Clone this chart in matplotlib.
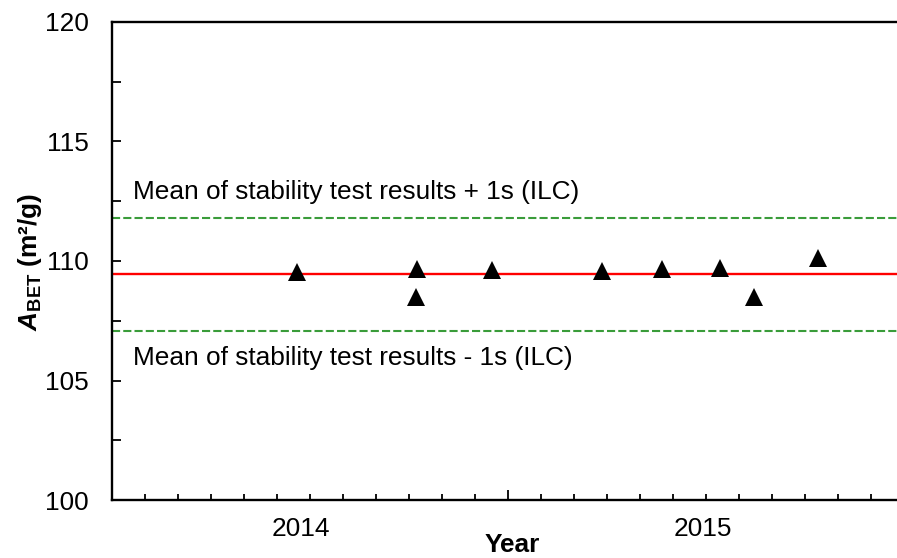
import matplotlib
matplotlib.use("Agg")
import matplotlib.pyplot as plt
import numpy as np

plt.rcParams['font.family'] = ['Liberation Sans', 'DejaVu Sans']
plt.rcParams['mathtext.fontset'] = 'custom'
plt.rcParams['mathtext.rm'] = 'Liberation Sans'
plt.rcParams['mathtext.it'] = 'Liberation Sans:italic'
plt.rcParams['mathtext.bf'] = 'Liberation Sans:bold'
plt.rcParams['mathtext.bfit'] = 'Liberation Sans:italic:bold'

# months since 1 Jan 2014
sample_months = [5.62, 9.25, 9.21, 11.52, 14.86, 16.66, 18.42, 19.46, 21.38]
abet_values = [109.52, 109.65, 108.49, 109.64, 109.60, 109.67, 109.69, 108.50, 110.11]

mean_value = 109.44
upper_value = 111.80
lower_value = 107.09

year_labels = ['2014', '2015']
year_label_pos = [5.73, 17.9]
upper_text = 'Mean of stability test results + 1s (ILC)'
lower_text = 'Mean of stability test results - 1s (ILC)'

FS = 18.9
fig = plt.figure(figsize=(8.97, 5.58), dpi=100)
ax = fig.add_axes([112 / 897, 58 / 558, 792 / 897, 478 / 558])

ax.axhline(mean_value, color='#ff0000', lw=1.7, zorder=2)
ax.axhline(upper_value, color='#3a9c3a', lw=1.5, ls=(0, (3.9, 1.5)), zorder=2)
ax.axhline(lower_value, color='#3a9c3a', lw=1.5, ls=(0, (3.9, 1.5)), zorder=2)
ax.plot(sample_months, abet_values, ls='none', marker='^', ms=13.2,
        color='black', mec='black', mew=0, zorder=3)

ax.set_xlim(0, 24)
ax.set_ylim(100, 120)

ax.text(0.64, 112.59, upper_text, fontsize=FS, va='baseline', ha='left')
ax.text(0.64, 105.66, lower_text, fontsize=FS, va='baseline', ha='left')

for s in ['left', 'bottom', 'top', 'right']:
    ax.spines[s].set_linewidth(1.7)

ax.set_yticks(np.arange(100, 121, 5))
ax.set_yticks(np.arange(102.5, 120, 5), minor=True)
ax.tick_params(axis='y', which='both', direction='in', length=6.5, width=1.3,
               labelsize=FS, pad=16.5)

ax.set_xticks(year_label_pos, year_labels)
ax.set_xticks([m for m in range(1, 24) if m != 12], minor=True)
ax.tick_params(axis='x', which='major', length=0, labelsize=FS, pad=12.5)
ax.tick_params(axis='x', which='minor', direction='in', length=4.5, width=1.3)

sec = ax.secondary_xaxis('bottom')
sec.set_xticks([12], [''])
sec.tick_params(direction='in', length=7.5, width=1.3)
sec.spines['bottom'].set_visible(False)

fig.text(512 / 897, 1 - 545 / 558, 'Year', fontsize=FS, fontweight='bold',
         ha='center', va='center')
fig.text(30 / 897, 1 - 262 / 558, r'$\mathbfit{A}_{\mathbf{BET}}$ (m²/g)',
         fontsize=FS, fontweight='bold', rotation=90, ha='center', va='center')

fig.savefig('out.png', dpi=100)
